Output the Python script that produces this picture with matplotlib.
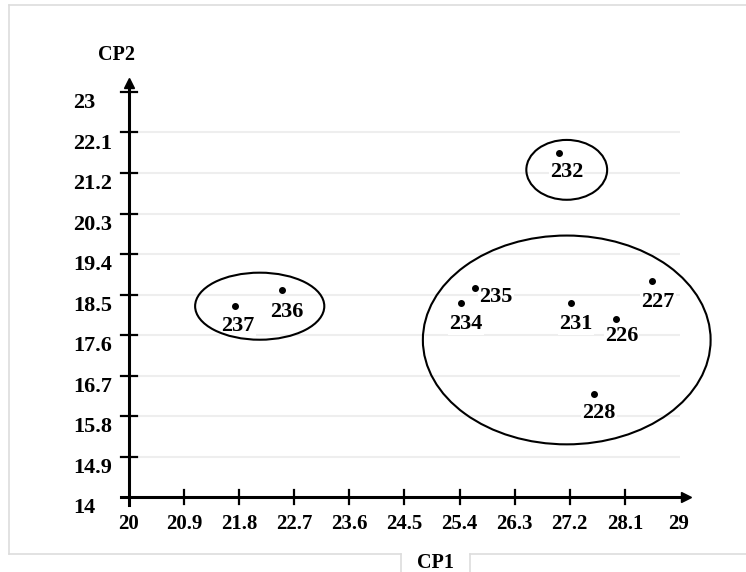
import matplotlib.pyplot as plt
from matplotlib.patches import Ellipse
from matplotlib.lines import Line2D

# sample scores on the first two components
samples = ['237', '236', '235', '234', '231', '226', '227', '228', '232']
cp1 = [21.73, 22.50, 25.65, 25.42, 27.22, 27.96, 28.54, 27.60, 27.03]
cp2 = [18.24, 18.59, 18.64, 18.32, 18.32, 17.95, 18.80, 16.30, 21.64]

x_ticks = [20, 20.9, 21.8, 22.7, 23.6, 24.5, 25.4, 26.3, 27.2, 28.1, 29]
y_ticks = [14, 14.9, 15.8, 16.7, 17.6, 18.5, 19.4, 20.3, 21.2, 22.1, 23]

# groups: (centre x, centre y, width, height)
groups = [(22.135, 18.24, 2.11, 1.49),
          (27.15, 21.27, 1.32, 1.33),
          (27.15, 17.49, 4.70, 4.64)]

# label offsets in pixels (right, down)
offsets = {'237': (3, 20), '236': (5, 22), '235': (21, 9), '234': (5, 21),
           '231': (5, 21), '226': (5, 17), '227': (6, 21), '228': (5, 20),
           '232': (7, 19)}

W, H = 746, 572
fig = plt.figure(figsize=(W / 100, H / 100), dpi=100)
ax = fig.add_axes([129 / W, (H - 497) / H, (680 - 129) / W, (497 - 92) / H])
ax.set_xlim(20, 29)
ax.set_ylim(14, 23)
ax.axis('off')

serif = ['Liberation Serif', 'DejaVu Serif']

# outer frame of the picture
fc = '#dddddd'
def fline(x0, y0, x1, y1):
    fig.add_artist(Line2D([x0 / W, x1 / W], [1 - y0 / H, 1 - y1 / H], color=fc, lw=1.2))
fline(9, 5, W, 5)
fline(9, 5, 9, 554)
fline(9, 554, 401, 554)
fline(470, 554, W, 554)
fline(401, 554, 401, H)
fline(470, 554, 470, H)

# grid lines
for y in y_ticks[1:-1]:
    ax.plot([20.13, 29], [y, y], color='#eeeeee', lw=1.5, zorder=0)

# axes with arrows
ax.plot([19.87, 29.1], [14, 14], color='black', lw=2.2, clip_on=False)
ax.plot([20, 20], [13.82, 23.2], color='black', lw=2.2, clip_on=False)
ax.plot([29.1], [14], marker='>', color='black', ms=7, clip_on=False)
ax.plot([20], [23.2], marker='^', color='black', ms=7, clip_on=False)

for x in x_ticks[1:-1]:
    ax.plot([x, x], [13.84, 14.16], color='black', lw=1.6, clip_on=False)
    ax.text(x, 13.4, str(x), ha='center', va='center', family=serif,
            fontsize=15, fontweight='bold')
ax.text(20, 13.4, '20', ha='center', va='center', family=serif, fontsize=15, fontweight='bold')
ax.text(28.98, 13.4, '29', ha='center', va='center', family=serif, fontsize=15, fontweight='bold')

for y in y_ticks:
    if y > 14:
        ax.plot([19.87, 20.13], [y, y], color='black', lw=1.6, clip_on=False)
    ax.text(19.085, y - 0.25, str(y), ha='left', va='center', family=serif,
            fontsize=16, fontweight='bold')

ax.text(19.8, 23.83, 'CP2', ha='center', va='center', family=serif, fontsize=14.5, fontweight='bold')
fig.text(435 / W, 1 - 563 / H, 'CP1', ha='center', va='center', family=serif,
         fontsize=14.5, fontweight='bold')

for cx, cy, w, h in groups:
    ax.add_patch(Ellipse((cx, cy), w, h, fill=False, edgecolor='black', lw=1.5,
                         clip_on=False, zorder=3))

ax.scatter(cp1, cp2, s=16, color='black', zorder=4, clip_on=False)
for name, x, y in zip(samples, cp1, cp2):
    dx, dy = offsets[name]
    ax.annotate(name, (x, y), xytext=(dx * 0.72, -dy * 0.72), textcoords='offset points',
                ha='center', va='center', family=serif, fontsize=16, fontweight='bold',
                bbox=dict(boxstyle='square,pad=0.05', fc='white', ec='none'), zorder=2)

fig.savefig('out.png', dpi=100)
